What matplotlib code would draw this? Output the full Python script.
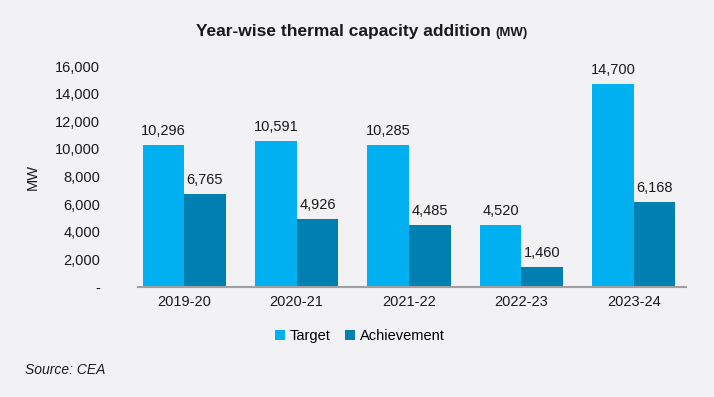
import matplotlib
matplotlib.use("Agg")
import matplotlib.pyplot as plt
import numpy as np

plt.rcParams['font.family'] = ['Liberation Sans', 'DejaVu Sans']

categories = ["2019-20", "2020-21", "2021-22", "2022-23", "2023-24"]
target = [10296, 10591, 10285, 4520, 14700]
achievement = [6765, 4926, 4485, 1460, 6168]
yticks = [0, 2000, 4000, 6000, 8000, 10000, 12000, 14000, 16000]

BG = '#f2f2f4'
C1 = '#00b0f0'
C2 = '#0080b0'
TXT = '#1a1a1a'

fig = plt.figure(figsize=(7.14, 3.97), dpi=100, facecolor=BG)
ax = fig.add_axes([128/714, 1-287/397, 562/714, 221/397], facecolor=BG)

x = np.arange(len(categories))
w = 0.37
b1 = ax.bar(x - w/2, target, w, color=C1, label='Target')
b2 = ax.bar(x + w/2, achievement, w, color=C2, label='Achievement')

for bars in (b1, b2):
    for r in bars:
        ax.annotate(f"{int(r.get_height()):,}", (r.get_x() + r.get_width()/2, r.get_height()),
                    xytext=(0, 5), textcoords='offset points',
                    ha='center', va='bottom', fontsize=10.5, color=TXT)

ax.set_xlim(-0.5, len(categories) - 0.5)
ax.set_ylim(0, 16000)
ax.set_yticks(yticks)
ax.set_yticklabels(['-' if v == 0 else f"{v:,}" for v in yticks])
ax.set_xticks(x)
ax.set_xticklabels(categories)
ax.tick_params(axis='both', length=0, labelsize=10.5, colors=TXT)
ax.tick_params(axis='y', pad=20)
ax.tick_params(axis='x', pad=6)
for s in ['top', 'right', 'left']:
    ax.spines[s].set_visible(False)
ax.spines['bottom'].set_color('#a0a0a0')
ax.spines['bottom'].set_linewidth(1.5)
ax.spines['bottom'].set_bounds(-0.41, 4.46)
ax.set_ylabel('MW', fontsize=10.5, color=TXT)
ax.yaxis.set_label_coords((40 - 128) / 562, 0.5)

ty = 1 - 36/397
t = fig.text(196/714, ty, 'Year-wise thermal capacity addition ', ha='left', va='baseline',
             fontsize=12.5, fontweight='bold', color=TXT)
fig.canvas.draw()
bb = t.get_window_extent(renderer=fig.canvas.get_renderer())
fig.text(bb.x1 / fig.bbox.width, ty, '(MW)', ha='left', va='baseline',
         fontsize=9.5, fontweight='bold', color=TXT)

fig.legend(handles=[b1, b2], loc='center', bbox_to_anchor=(360/714, 0.154), ncol=2, frameon=False,
           fontsize=10.5, handlelength=0.7, handleheight=0.7, handletextpad=0.3, columnspacing=1.0)

fig.text(25/714, 0.068, 'Source: CEA', ha='left', va='center', fontsize=10, style='italic', color=TXT)

fig.savefig('out.png', dpi=100, facecolor=BG)
